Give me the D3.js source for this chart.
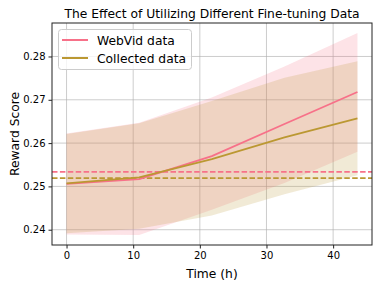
<!DOCTYPE html>
<html><head><meta charset="utf-8">
<script src="https://cdn.jsdelivr.net/npm/d3@7"></script>
<style>body{margin:0;background:#fff}svg{display:block}text{font-family:"DejaVu Sans",sans-serif;fill:#000}</style>
</head><body><svg id="c" width="381" height="286"></svg>
<script>
const time = [0, 10.9, 21.8, 32.7, 43.65];
const webvidMean = [0.2506, 0.2517, 0.2570, 0.2644, 0.2718];
const webvidLow  = [0.2389, 0.2388, 0.2446, 0.2508, 0.2580];
const webvidHigh = [0.2622, 0.2647, 0.2705, 0.2777, 0.2854];
const collMean = [0.2507, 0.2521, 0.2563, 0.2613, 0.2657];
const collLow  = [0.2392, 0.2402, 0.2433, 0.2482, 0.2526];
const collHigh = [0.2621, 0.2646, 0.2697, 0.2751, 0.2789];
const baselines = [0.25336, 0.25191];
const seriesNames = ["WebVid data", "Collected data"];
const colors = ["#f77189", "#bb9832"];
const xTicks = [0, 10, 20, 30, 40];
const yTicks = [0.24, 0.25, 0.26, 0.27, 0.28];

const L = 52, R = 372, T = 23, B = 245;
const svg = d3.select("#c");
const xmin = d3.min(time), xmax = d3.max(time), xm = (xmax - xmin) * 0.05;
const allY = webvidLow.concat(webvidHigh, collLow, collHigh);
const ymin = d3.min(allY), ymax = d3.max(allY), ym = (ymax - ymin) * 0.05;
const x = d3.scaleLinear().domain([xmin - xm, xmax + xm]).range([L, R]);
const y = d3.scaleLinear().domain([ymin - ym, ymax + ym]).range([B, T]);

// grid
const g = svg.append("g");
g.selectAll(".gx").data(xTicks).join("line").attr("x1", d => x(d)).attr("x2", d => x(d))
  .attr("y1", T).attr("y2", B).attr("stroke", "#b0b0b0").attr("stroke-opacity", 0.7).attr("stroke-width", 0.9);
g.selectAll(".gy").data(yTicks).join("line").attr("y1", d => y(d)).attr("y2", d => y(d))
  .attr("x1", L).attr("x2", R).attr("stroke", "#b0b0b0").attr("stroke-opacity", 0.7).attr("stroke-width", 0.9);

const series = [
  {mean: webvidMean, low: webvidLow, high: webvidHigh},
  {mean: collMean, low: collLow, high: collHigh}
];
const area = d3.area().x((d, i) => x(time[i])).y0(d => y(d[0])).y1(d => y(d[1]));
const line = d3.line().x((d, i) => x(time[i])).y(d => y(d));

series.forEach((s, k) => {
  svg.append("path").datum(s.low.map((v, i) => [v, s.high[i]])).attr("d", area)
    .attr("fill", colors[k]).attr("fill-opacity", 0.2);
});
baselines.forEach((b, k) => {
  svg.append("line").attr("x1", L).attr("x2", R).attr("y1", y(b)).attr("y2", y(b))
    .attr("stroke", colors[k]).attr("stroke-width", 1.6).attr("stroke-dasharray", "5.5,2.4");
});
series.forEach((s, k) => {
  svg.append("path").datum(s.mean).attr("d", line).attr("fill", "none")
    .attr("stroke", colors[k]).attr("stroke-width", 1.8);
});

// axes
const xa = svg.append("g").attr("transform", `translate(0,${B})`)
  .call(d3.axisBottom(x).tickValues(xTicks).tickSize(3.5).tickPadding(3).tickFormat(d3.format("d")));
const ya = svg.append("g").attr("transform", `translate(${L},0)`)
  .call(d3.axisLeft(y).tickValues(yTicks).tickSize(3.5).tickPadding(3).tickFormat(d3.format(".2f")));
[xa, ya].forEach(a => { a.select(".domain").remove(); a.selectAll("text").attr("font-size", 10).attr("font-family", "DejaVu Sans").attr("fill", "#000"); a.selectAll("line").attr("stroke", "#222"); });
svg.append("rect").attr("x", L).attr("y", T).attr("width", R - L).attr("height", B - T)
  .attr("fill", "none").attr("stroke", "#222").attr("stroke-width", 1);

svg.append("text").attr("x", (L + R) / 2).attr("y", 18).attr("text-anchor", "middle").attr("font-size", 12.3)
  .text("The Effect of Utilizing Different Fine-tuning Data");
svg.append("text").attr("x", (L + R) / 2).attr("y", 278).attr("text-anchor", "middle").attr("font-size", 12.3)
  .text("Time (h)");
svg.append("text").attr("transform", `translate(19,${(T + B) / 2}) rotate(-90)`).attr("text-anchor", "middle")
  .attr("font-size", 12.3).text("Reward Score");

// legend
const lg = svg.append("g");
lg.append("rect").attr("x", 58.5).attr("y", 29.5).attr("width", 133).attr("height", 40).attr("rx", 3)
  .attr("fill", "#fff").attr("fill-opacity", 0.8).attr("stroke", "#ccc").attr("stroke-width", 1);
seriesNames.forEach((n, k) => {
  const yy = 40 + k * 18;
  lg.append("line").attr("x1", 62).attr("x2", 88).attr("y1", yy).attr("y2", yy).attr("stroke", colors[k]).attr("stroke-width", 2);
  lg.append("text").attr("x", 97).attr("y", yy + 4.5).attr("font-size", 12.3).text(n);
});
</script></body></html>
